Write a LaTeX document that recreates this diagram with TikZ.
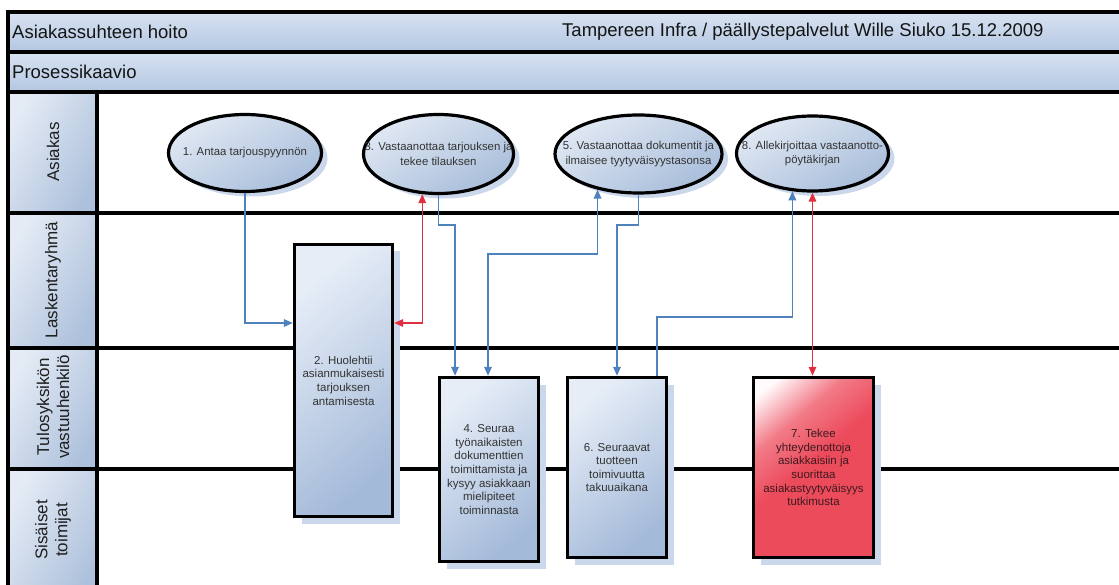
\documentclass[tikz,border=0pt]{standalone}
\usepackage{fontspec}
\setmainfont{Liberation Sans}
\usetikzlibrary{shapes.geometric,arrows.meta,shadows}
\definecolor{hdrtop}{HTML}{D8E3F2}
\definecolor{hdrbot}{HTML}{B3C6E1}
\definecolor{flowblue}{HTML}{4F81BD}
\definecolor{flowred}{HTML}{E03040}
\definecolor{shadowblue}{HTML}{CBD7EA}
\definecolor{celllight}{HTML}{E4EBF5}
\definecolor{celldark}{HTML}{AEC1DC}
\definecolor{boxlight}{HTML}{E6EDF7}
\definecolor{boxdark}{HTML}{A4BAD9}
\definecolor{ovallight}{HTML}{E0E8F3}
\definecolor{ovaldark}{HTML}{A9BEDB}
\definecolor{redlight}{HTML}{FFFBFC}
\definecolor{redmid}{HTML}{F27A87}
\definecolor{reddark}{HTML}{EC4B5C}
\definecolor{txtgray}{HTML}{333333}
\definecolor{txtred}{HTML}{3E1A1E}
% red fill: mostly red, fading to white only in one corner
\pgfdeclareverticalshading{redfade}{100bp}{color(0bp)=(reddark); color(52bp)=(reddark); color(66bp)=(redmid); color(80bp)=(redlight); color(100bp)=(redlight)}
\begin{document}
\begin{tikzpicture}[x=1pt,y=-1pt,
  frameline/.style={draw=black,line width=3.2pt},
  hdrbar/.style={frameline,top color=hdrtop,bottom color=hdrbot},
  hdrtext/.style={anchor=west,inner sep=0pt,text=black!92,font=\fontsize{18.5}{22}\selectfont},
  lanecell/.style={frameline,top color=celllight,bottom color=celldark,shading angle=60},
  lanetext/.style={rotate=90,align=center,inner sep=0pt,text=black!88,font=\fontsize{17}{20}\selectfont},
  laneline/.style={draw=black,line width=3.4pt},
  procbox/.style={rectangle,draw=black,line width=3.4pt,inner sep=2pt,align=center,
    top color=boxlight,bottom color=boxdark,shading angle=40,text=txtgray,
    font=\fontsize{11.5}{13.6}\selectfont,
    drop shadow={shadow xshift=7pt,shadow yshift=-7pt,fill=shadowblue,draw=none,opacity=1}},
  redbox/.style={procbox,shade,shading=redfade,shading angle=40,text=txtred},
  stepoval/.style={ellipse,draw=black,line width=3.2pt,inner sep=0pt,
    top color=ovallight,bottom color=ovaldark,shading angle=30,
    drop shadow={shadow xshift=6pt,shadow yshift=-5pt,fill=shadowblue,draw=none,opacity=1}},
  ovaltext/.style={align=center,inner sep=0pt,text=txtgray,font=\fontsize{11.4}{14.5}\selectfont},
  bluearr/.style={draw=flowblue,line width=1.5pt,-{Triangle[length=9pt,width=7.5pt]}},
  bluearrtwo/.style={draw=flowblue,line width=1.5pt,{Triangle[length=9pt,width=7.5pt]}-{Triangle[length=9pt,width=7.5pt]}},
  redarrtwo/.style={draw=flowred,line width=1.5pt,{Triangle[length=9pt,width=7.5pt]}-{Triangle[length=9pt,width=7.5pt]}}
]
\useasboundingbox (0,0) rectangle (1119,585);
\clip (0,0) rectangle (1119,585);
\fill[white] (0,0) rectangle (1119,585);

% header bars
\draw[hdrbar] (8,12) rectangle (1130,52);
\draw[hdrbar] (8,52) rectangle (1130,92);
\node[hdrtext] (title) at (12,32) {Asiakassuhteen hoito};
\node[hdrtext] (author) at (562,32) {Tampereen Infra / päällystepalvelut Wille Siuko 15.12.2009};
\node[hdrtext] (sub) at (12,72) {Prosessikaavio};

% lane label cells
\draw[lanecell] (8,92) rectangle (97,213);
\draw[lanecell] (8,213) rectangle (97,348);
\draw[lanecell] (8,348) rectangle (97,469);
\draw[lanecell] (8,469) rectangle (97,600);
\node[lanetext] (l1) at (53,152) {Asiakas};
\node[lanetext] (l2) at (53,280) {Laskentaryhmä};
\node[lanetext] (l3) at (53,407) {Tulosyksikön\\vastuuhenkilö};
\node[lanetext] (l4) at (53,530) {Sisäiset\\toimijat};

% lane separators
\draw[laneline] (97,213) -- (1130,213);
\draw[laneline] (97,348) -- (1130,348);
\draw[laneline] (97,469) -- (1130,469);

% customer steps
\node[stepoval,minimum width=153pt,minimum height=77pt] (e1) at (245,153) {};
\node[ovaltext] (e1t) at (e1.center) {1. Antaa tarjouspyynnön};
\node[stepoval,minimum width=150pt,minimum height=79pt] (e3) at (438.5,154) {};
\node[ovaltext] (e3t) at (e3.center) {3. Vastaanottaa tarjouksen ja\\tekee tilauksen};
\node[stepoval,minimum width=167pt,minimum height=78pt] (e5) at (638.5,154) {};
\node[ovaltext] (e5t) at (e5.center) {5. Vastaanottaa dokumentit ja\\ilmaisee tyytyväisyystasonsa};
\node[stepoval,minimum width=152pt,minimum height=75pt] (e8) at (812.5,153.5) {};
\node[ovaltext] (e8t) at (e8.center) {8. Allekirjoittaa vastaanotto-\\pöytäkirjan};

% process boxes
\node[procbox,minimum width=98pt,minimum height=272pt] (b2) at (343.5,380.5)
  {2. Huolehtii\\asianmukaisesti\\tarjouksen\\antamisesta};
\node[procbox,minimum width=99pt,minimum height=184pt] (b4) at (489,469.5)
  {4. Seuraa\\työnaikaisten\\dokumenttien\\toimittamista ja\\kysyy asiakkaan\\mielipiteet\\toiminnasta};
\node[procbox,minimum width=99pt,minimum height=180pt] (b6) at (617,467.5)
  {6. Seuraavat\\tuotteen\\toimivuutta\\takuuaikana};
\node[redbox,minimum width=120pt,minimum height=180pt] (b7) at (813.5,467.5)
  {7. Tekee\\yhteydenottoja\\asiakkaisiin ja\\suorittaa\\asiakastyytyväisyys\\tutkimusta};

% routing levels and columns
\coordinate (ky225) at (0,225);
\coordinate (ky254) at (0,254);
\coordinate (ky317) at (0,317);
\coordinate (ky323) at (0,323);
\coordinate (cx455) at (455,0);
\coordinate (cx488) at (488,0);
\coordinate (cx617) at (617,0);
\coordinate (cx657) at (657,0);

% connectors
\draw[bluearr] (e1.south) |- (b2.west |- ky323);
\draw[redarrtwo] (b2.east |- ky323) -| (e3.248);
\draw[bluearr] (e3.south) |- (cx455 |- ky225) -- (cx455 |- b4.north);
\draw[bluearrtwo] (cx488 |- b4.north) |- (e5.221 |- ky254) -- (e5.221);
\draw[bluearr] (e5.south) |- (cx617 |- ky225) -- (cx617 |- b6.north);
\draw[bluearr] (cx657 |- b6.north) |- (e8.242 |- ky317) -- (e8.242);
\draw[redarrtwo] (e8.south) -- (e8.south |- b7.north);
\end{tikzpicture}
\end{document}
